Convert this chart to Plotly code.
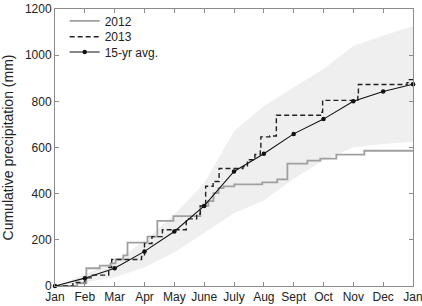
import plotly.graph_objects as go

month_labels = ["Jan", "Feb", "Mar", "Apr", "May", "June", "July", "Aug", "Sept", "Oct", "Nov", "Dec", "Jan"]
month_pos = list(range(13))

# 15-yr average at month starts
avg_x = list(range(13))
avg_y = [0, 34, 77, 150, 236, 347, 496, 573, 659, 723, 800, 843, 874]

# range band (min/max envelope) at month starts
band_x = list(range(13))
band_low = [0, 15, 38, 80, 145, 230, 315, 370, 465, 545, 600, 615, 625]
band_high = [0, 50, 105, 195, 310, 445, 670, 780, 860, 940, 1040, 1085, 1125]

# 2012 cumulative (step changes, x in months)
y2012_x = [0, 0.74, 1.05, 1.5, 1.86, 2.03, 2.29, 2.43, 2.76, 3.1, 3.43, 3.97, 4.87, 5.14, 5.31, 5.48, 5.65, 6.01, 6.95, 7.45, 7.79, 8.46, 8.89, 9.43, 10.37, 12]
y2012_y = [0, 12, 77, 88, 98, 115, 133, 188, 188, 214, 282, 303, 347, 368, 402, 424, 432, 440, 449, 462, 530, 543, 552, 569, 586, 590]

# 2013 cumulative
y2013_x = [0, 0.6, 1.0, 1.25, 1.8, 1.9, 2.9, 3.0, 3.25, 3.6, 4.4, 4.75, 4.87, 5.05, 5.3, 5.5, 6.3, 6.45, 6.7, 6.88, 6.9, 7.2, 7.42, 8.9, 8.97, 10.15, 10.17, 11.8, 11.85, 12]
y2013_y = [0, 15, 35, 47, 80, 115, 128, 184, 214, 244, 291, 312, 347, 432, 453, 509, 517, 547, 570, 595, 646, 650, 740, 753, 804, 830, 873, 881, 894, 894]

fig = go.Figure()

fig.add_trace(go.Scatter(x=band_x, y=band_low, mode="lines", line=dict(width=0),
                         showlegend=False, hoverinfo="skip"))
fig.add_trace(go.Scatter(x=band_x, y=band_high, mode="lines", line=dict(width=0),
                         fill="tonexty", fillcolor="#efefef", showlegend=False, hoverinfo="skip"))

fig.add_trace(go.Scatter(x=y2012_x, y=y2012_y, mode="lines", name="2012", legend="legend",
                         line=dict(color="#a0a0a0", width=1.8, shape="hv")))
fig.add_trace(go.Scatter(x=y2013_x, y=y2013_y, mode="lines", name="2013", legend="legend2",
                         line=dict(color="#222222", width=1.4, dash="5px,3px", shape="hv")))
fig.add_trace(go.Scatter(x=avg_x, y=avg_y, mode="lines+markers", name="15-yr avg.", legend="legend3",
                         line=dict(color="#111111", width=1.1),
                         marker=dict(color="#111111", size=4.5), cliponaxis=False))

axis_common = dict(showgrid=False, zeroline=False, showline=True, linecolor="#8c8c8c",
                   linewidth=1, mirror="ticks", ticks="inside", ticklen=4,
                   tickcolor="#8c8c8c", tickfont=dict(size=12, color="#222"),
                   automargin=False, ticklabeloverflow="allow")

fig.update_xaxes(range=[0, 12], tickvals=month_pos, ticktext=month_labels, **axis_common)
fig.update_yaxes(range=[0, 1200], tickvals=[0, 200, 400, 600, 800, 1000, 1200],
                 title=dict(text="Cumulative precipitation (mm)", font=dict(size=14, color="#222")),
                 **axis_common)

leg_common = dict(x=0.027, xanchor="left", yanchor="middle", bgcolor="rgba(0,0,0,0)",
                  font=dict(size=12), itemwidth=30, borderwidth=0)

fig.update_layout(
    width=422, height=306,
    margin=dict(l=55, r=9, t=6, b=20),
    paper_bgcolor="white", plot_bgcolor="white",
    font=dict(family="Liberation Sans, Arial, sans-serif", color="#222"),
    legend=dict(y=0.957, **leg_common),
    legend2=dict(y=0.900, **leg_common),
    legend3=dict(y=0.845, **leg_common),
    showlegend=True,
)

fig.write_html("out.html", config={"displayModeBar": False},
               post_script="document.body.style.margin='0';document.body.style.padding='0';document.body.style.overflow='hidden';")
